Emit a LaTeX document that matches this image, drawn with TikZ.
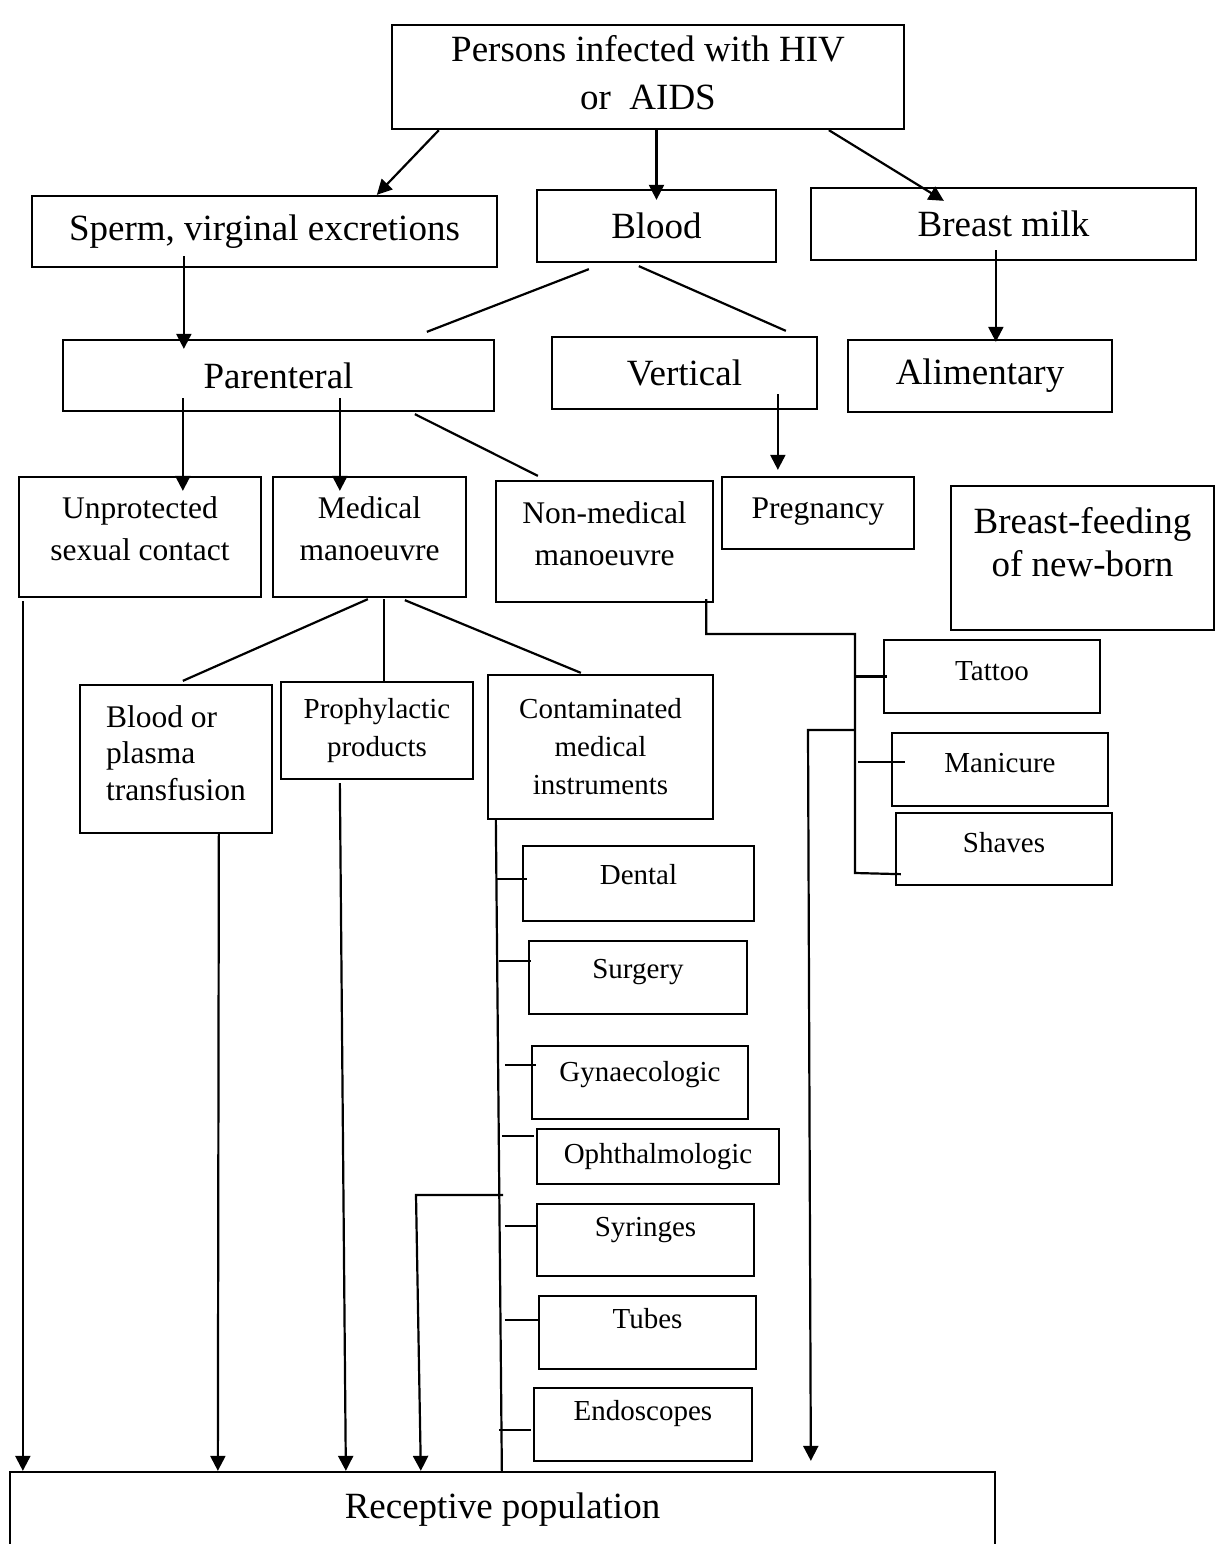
\documentclass[tikz,border=0pt]{standalone}
\usepackage{fontspec}
\setmainfont{Liberation Serif}
\usetikzlibrary{arrows.meta}

\begin{document}
\begin{tikzpicture}[x=1pt, y=-1pt, >={Triangle[length=15pt, width=15pt]},
      chartbox/.style={draw, line width=2.3pt, inner sep=0pt, align=center},
      boxbig/.style={chartbox, font=\fontsize{37}{48}\selectfont},
      boxmid/.style={chartbox, font=\fontsize{31.5}{42}\selectfont},
      boxsmall/.style={chartbox, font=\fontsize{29}{38}\selectfont},
      dims/.style 2 args={minimum width=#1, minimum height=#2},
      lift/.style={text height=20pt, text depth=#1},
      conn/.style={line width=2.2pt},
    ]
    \useasboundingbox (0,0) rectangle (1219,1544);

    % Source of infection
    \node[boxbig, text depth=10pt, dims={512pt}{104pt}] (src) at (648,77) {Persons infected with HIV\\or\ \ AIDS};

    % Body fluids
    \node[boxbig, dims={465pt}{71pt}] (sperm) at (264.5,231.5) {Sperm, virginal excretions};
    \node[boxbig, dims={239pt}{72pt}] (blood) at (656.5,226) {Blood};
    \node[boxbig, dims={385pt}{72pt}] (milk) at (1003.5,224) {Breast milk};

    % Transmission routes
    \node[boxbig, dims={431pt}{71pt}] (parent) at (278.5,375.5) {Parenteral};
    \node[boxbig, dims={265pt}{72pt}] (vert) at (684.5,373) {Vertical};
    \node[boxbig, dims={264pt}{72pt}] (alim) at (980,376) {Alimentary};

    % Ways of contact
    \node[boxmid, text depth=16pt, dims={242pt}{120pt}] (unprot) at (140,537) {Unprotected\\sexual contact};
    \node[boxmid, text depth=16pt, dims={193pt}{120pt}] (medic) at (369.5,537) {Medical\\manoeuvre};
    \node[boxmid, text depth=16pt, dims={217pt}{121pt}] (nonmed) at (604.5,541.5) {Non-medical\\manoeuvre};
    \node[boxmid, lift=10pt, dims={192pt}{72pt}] (preg) at (818,513) {Pregnancy};
    \node[chartbox, font=\fontsize{37}{43}\selectfont, text depth=32pt, dims={263pt}{144pt}] (feed) at (1082.5,558) {Breast-feeding\\of new-born};

    % Medical manoeuvre branches
    \node[chartbox, align=left, font=\fontsize{31.5}{36.5}\selectfont, text depth=12pt, dims={192pt}{148pt}] (bpt) at (176,759) {Blood or\\plasma\\transfusion};
    \node[boxsmall, dims={192pt}{97pt}] (proph) at (377,730.5) {Prophylactic\\products};
    \node[boxsmall, dims={225pt}{144pt}] (contam) at (600.5,747) {Contaminated\\medical\\instruments};

    % Non-medical manoeuvre items
    \node[boxsmall, lift=13pt, dims={216pt}{73pt}] (tattoo) at (992,676.5) {Tattoo};
    \node[boxsmall, lift=15pt, dims={216pt}{73pt}] (manic) at (1000,769.5) {Manicure};
    \node[boxsmall, lift=14pt, dims={216pt}{72pt}] (shaves) at (1004,849) {Shaves};

    % Instruments
    \node[boxsmall, lift=19pt, dims={231pt}{75pt}] (dental) at (638.5,883.5) {Dental};
    \node[boxsmall, lift=19pt, dims={218pt}{73pt}] (surg) at (638,977.5) {Surgery};
    \node[boxsmall, lift=23pt, dims={216pt}{73pt}] (gyn) at (640,1082.5) {Gynaecologic};
    \node[boxsmall, lift=7pt, dims={242pt}{55pt}] (oph) at (658,1156.5) {Ophthalmologic};
    \node[boxsmall, lift=28pt, dims={217pt}{72pt}] (syr) at (645.5,1240) {Syringes};
    \node[boxsmall, lift=29pt, dims={217pt}{73pt}] (tubes) at (647.5,1332.5) {Tubes};
    \node[boxsmall, lift=29pt, dims={218pt}{73pt}] (endo) at (643,1424.5) {Endoscopes};

    % Target
    \node[boxbig, dims={985pt}{76pt}] (recep) at (502.5,1510) {Receptive population};

    % Source to fluids
    \draw[conn, ->] ([xshift=48pt]src.south west) -- ([xshift=346pt]sperm.north west);
    \draw[conn, ->] (src.south -| blood.north) -- ([yshift=-11pt]blood.north);
    \draw[conn, ->] ([xshift=438pt]src.south west) -- ([xshift=134pt, yshift=-14pt]milk.north west);

    % Fluids to routes
    \draw[conn, ->] ([xshift=153pt, yshift=12pt]sperm.south west) -- ([xshift=122pt, yshift=-10pt]parent.north west);
    \draw[conn] ([xshift=53pt, yshift=-6pt]blood.south west) -- ([xshift=365pt, yshift=7pt]parent.north west);
    \draw[conn] ([xshift=103pt, yshift=-3pt]blood.south west) -- ([xshift=235pt, yshift=5pt]vert.north west);
    \draw[conn, ->] ([xshift=186pt, yshift=11pt]milk.south west) -- ([xshift=149pt, yshift=-3pt]alim.north west);

    % Routes to ways of contact
    \draw[conn, ->] ([xshift=121pt, yshift=14pt]parent.south west) -- ([xshift=165pt, yshift=-15pt]unprot.north west);
    \draw[conn, ->] ([xshift=278pt, yshift=14pt]parent.south west) -- ([xshift=68pt, yshift=-15pt]medic.north west);
    \draw[conn] ([xshift=353pt, yshift=-2pt]parent.south west) -- ([xshift=43pt, yshift=4pt]nonmed.north west);
    \draw[conn, ->] ([xshift=227pt, yshift=16pt]vert.south west) -- ([xshift=57pt, yshift=6pt]preg.north west);

    % Medical manoeuvre fan
    \draw[conn] ([xshift=96pt, yshift=-1pt]medic.south west) -- ([xshift=104pt, yshift=3pt]bpt.north west);
    \draw[conn] ([xshift=112pt, yshift=-1pt]medic.south west) -- ([xshift=104pt]proph.north west);
    \draw[conn] ([xshift=133pt, yshift=-2pt]medic.south west) -- ([xshift=94pt, yshift=1pt]contam.north west);

    % Non-medical bracket
    \coordinate (nmtop) at (855,634);
    \coordinate (nmbot) at (855,873);
    \coordinate (nmout) at (808,730);
    \draw[conn] ([xshift=-8pt, yshift=4pt]nonmed.south east) |- (nmtop) -- (nmbot)
      -- ([xshift=6pt, yshift=12pt]shaves.south west);
    \draw[conn] (nmtop |- tattoo.west) -- ([xshift=4pt]tattoo.west);
    \draw[conn] ([xshift=-33pt, yshift=7.5pt]manic.west) -- ([xshift=14pt, yshift=7.5pt]manic.west);
    \draw[conn, ->] (nmtop |- nmout) -- (nmout) -- ([xshift=802pt, yshift=10pt]recep.north west);

    % Instruments bracket
    \draw[conn] ([xshift=9pt]contam.south west) -- ([xshift=493pt]recep.north west);
    \foreach \n/\dy/\sx/\ex in {dental/4.5/-26/5, surg/16.5/-29/3, gyn/17.5/-26/5,
        oph/20.5/-34/-2, syr/14/-31/0, tubes/12.5/-33/0, endo/-5.5/-34/-2}
      \draw[conn] ([xshift=\sx pt, yshift=\dy pt]\n.west) -- ([xshift=\ex pt, yshift=\dy pt]\n.west);
    \coordinate (ctout) at (416,1195);
    \draw[conn, ->] ([xshift=87pt]ctout) -- (ctout) -- ([xshift=412pt]recep.north west);

    % Into the receptive population
    \draw[conn, ->] ([xshift=5pt, yshift=-3pt]unprot.south west) -- ([xshift=14pt]recep.north west);
    \draw[conn, ->] ([xshift=140pt]bpt.south west) -- ([xshift=209pt]recep.north west);
    \draw[conn, ->] ([xshift=60pt, yshift=-3pt]proph.south west) -- ([xshift=337pt]recep.north west);
  \end{tikzpicture}
\end{document}
